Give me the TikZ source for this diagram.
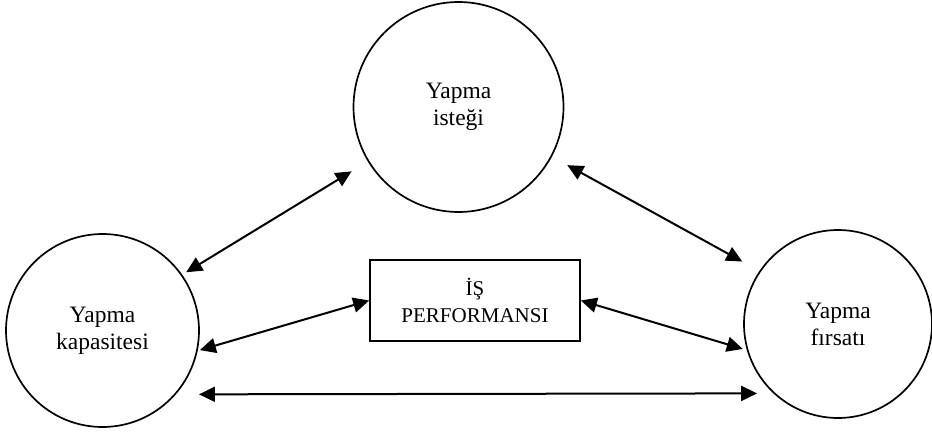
\documentclass[tikz,border=0pt]{standalone}
\usepackage{fontspec}
\setmainfont{Liberation Serif}
\usetikzlibrary{arrows.meta,positioning}

\begin{document}
\begin{tikzpicture}[x = 1pt, y = 1pt,
        yap/.style={draw, circle, line width=1.7pt, align=center, inner sep=0pt,
            font=\fontsize{23.5}{27}\selectfont},
        perfbox/.style={draw, rectangle, line width=1.7pt, align=center,
            minimum width=210pt, minimum height=81pt, font=\fontsize{21}{27}\selectfont},
        link/.style={line width=2pt,
            {Triangle[length=16pt,width=15pt]}-{Triangle[length=16pt,width=15pt]}}]
        \useasboundingbox (0,0) rectangle (932,432);
        \node (istek) [yap, minimum size=210pt] at (458.5,325) {Yapma\\isteği};
        \node (kapasite) [yap, minimum size=193pt] at (102.5,101.5) {Yapma\\kapasitesi};
        \node (firsat) [yap, minimum size=188pt] at (838,108) {Yapma\\fırsatı};
        \node (is) [perfbox] at (475,131.5) {İŞ\\PERFORMANSI};
        \draw [link, shorten <=4.6pt, shorten >=18.9pt] (kapasite.35.6) -- (istek.211.8);
        \draw [link, shorten <=17.5pt, shorten >=19.5pt] (istek.332.5) -- (firsat.146);
        \draw [link, shorten <=2.2pt] (kapasite.348) -- (is.west);
        \draw [link, shorten >=4.2pt] (is.east) -- (firsat.196.8);
        \draw [link, shorten <=23pt, shorten >=16.2pt] (kapasite.319.6) -- (firsat.227.3);
    \end{tikzpicture}
\end{document}
